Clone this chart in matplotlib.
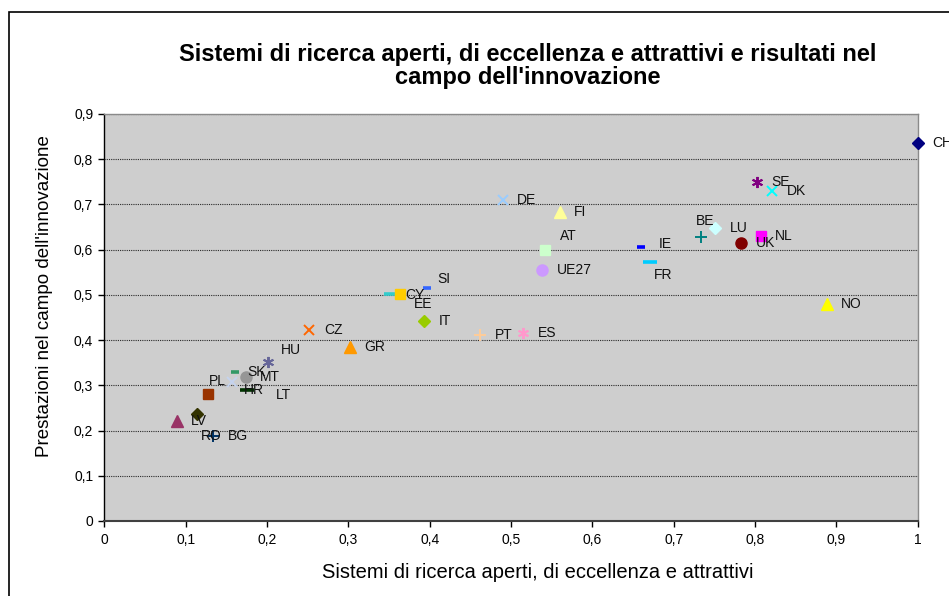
import matplotlib
matplotlib.use("Agg")
import matplotlib.pyplot as plt
from matplotlib.patches import Rectangle
from matplotlib.ticker import FuncFormatter, MultipleLocator

plt.rcParams['font.family'] = ['Liberation Sans', 'DejaVu Sans']

# ---- data ----
countries = ["CH", "NL", "NO", "DK", "SE", "UK", "BE", "IE", "FR", "LU",
             "AT", "FI", "DE", "ES", "UE27", "PT", "SI", "EE", "IT", "CY",
             "GR", "CZ", "HU", "MT", "BG", "SK", "HR", "RO", "LT", "LV", "PL"]
x_vals = [1.000, 0.807, 0.888, 0.821, 0.802, 0.783, 0.734, 0.660, 0.671, 0.751,
          0.542, 0.560, 0.490, 0.515, 0.538, 0.462, 0.397, 0.352, 0.393, 0.363,
          0.302, 0.252, 0.201, 0.174, 0.134, 0.161, 0.175, 0.114, 0.128, 0.089, 0.157]
y_vals = [0.835, 0.630, 0.480, 0.729, 0.750, 0.614, 0.627, 0.606, 0.572, 0.647,
          0.600, 0.684, 0.710, 0.415, 0.555, 0.410, 0.514, 0.501, 0.443, 0.502,
          0.384, 0.422, 0.352, 0.319, 0.188, 0.329, 0.290, 0.237, 0.280, 0.221, 0.308]

title = "Sistemi di ricerca aperti, di eccellenza e attrattivi e risultati nel\ncampo dell'innovazione"
xlabel = "Sistemi di ricerca aperti, di eccellenza e attrattivi"
ylabel = "Prestazioni nel campo dell'innovazione"

# ---- styles (marker, color, size) ----
AST = (6, 2, 0)
styles = {
    "CH": ("D", "#000080", 6), "NL": ("s", "#FF00FF", 7), "NO": ("^", "#FFFF00", 8),
    "DK": ("x", "#00FFFF", 7), "SE": (AST, "#800080", 8), "UK": ("o", "#800000", 8),
    "BE": ("+", "#008080", 8), "IE": ("_s", "#0000FF", 6), "FR": ("_l", "#00CCFF", 10),
    "LU": ("D", "#CCFFFF", 6), "AT": ("s", "#CCFFCC", 7), "FI": ("^", "#FFFF99", 8),
    "DE": ("x", "#99CCFF", 7), "ES": (AST, "#FF99CC", 8), "UE27": ("o", "#CC99FF", 8),
    "PT": ("+", "#FFCC99", 8), "SI": ("_s", "#3366FF", 6), "EE": ("_l", "#33CCCC", 10),
    "IT": ("D", "#99CC00", 6), "CY": ("s", "#FFCC00", 7), "GR": ("^", "#FF9900", 8),
    "CZ": ("x", "#FF6600", 7), "HU": (AST, "#666699", 8), "MT": ("o", "#969696", 8),
    "BG": ("+", "#003366", 8), "SK": ("_s", "#339966", 6), "HR": ("_l", "#003300", 10),
    "RO": ("D", "#333300", 6), "LT": ("s", "#993300", 7), "LV": ("^", "#993366", 8),
    "PL": ("x", "#C5D3EE", 7),
}
# label offsets in pixels (dx to left edge, dy downward)
std = (14.5, 0)
label_off = {c: std for c in countries}
label_off.update({
    "BE": (-5.7, -16.6), "IE": (18, -2.7), "FR": (3.6, 12.7), "AT": (15, -13.7),
    "SI": (10.2, -9.5), "CY": (6, 1), "EE": (23.5, 10), "HU": (13.5, -11.8),
    "SK": (12.3, 0), "PL": (-23.4, -1), "HR": (-2.3, 0), "LT": (67.7, 0.7),
    "RO": (3.4, 22.3),
})

W, H = 949, 596
fig = plt.figure(figsize=(W / 100, H / 100), dpi=100)
fig.patch.set_facecolor("white")

# chart-area border
fig.patches.append(Rectangle((9 / W, -0.05), 1.1, 1 - 12 / H + 0.05,
                             transform=fig.transFigure, fill=False,
                             edgecolor="black", linewidth=1.2, zorder=0))

ax = fig.add_axes([104.3 / W, 1 - 521 / H, (917.7 - 104.3) / W, (521 - 113.8) / H])
ax.set_facecolor("#CECECE")
ax.set_xlim(0, 1)
ax.set_ylim(0, 0.9)
ax.xaxis.set_major_locator(MultipleLocator(0.1))
ax.yaxis.set_major_locator(MultipleLocator(0.1))
fmt = FuncFormatter(lambda v, p: ("%g" % round(v, 2)).replace(".", ","))
ax.xaxis.set_major_formatter(fmt)
ax.yaxis.set_major_formatter(fmt)
ax.tick_params(axis="both", direction="out", length=4, width=1, labelsize=10,
               colors="black", pad=4)
ax.tick_params(axis="x", pad=5)
ax.grid(axis="y", color="#2a2a2a", linestyle=(0, (1, 1)), linewidth=0.8)
ax.set_axisbelow(True)

for s in ("top", "right"):
    ax.spines[s].set_color("#8a8a8a")
    ax.spines[s].set_linewidth(1.0)
ax.spines["left"].set_color("black")
ax.spines["left"].set_linewidth(1.0)
ax.spines["bottom"].set_color("#404040")
ax.spines["bottom"].set_linewidth(1.5)

for c, xv, yv in zip(countries, x_vals, y_vals):
    m, col, ms = styles[c]
    if m in ("_s", "_l"):
        ax.plot([xv], [yv], marker="_", color=col, markersize=ms, mew=2.6,
                linestyle="none", clip_on=False, zorder=3)
    elif m in ("x", "+") or m == AST:
        ax.plot([xv], [yv], marker=m, color=col, markersize=ms, mew=1.4,
                linestyle="none", clip_on=False, zorder=3)
    else:
        ax.plot([xv], [yv], marker=m, color=col, markersize=ms, mec=col,
                linestyle="none", clip_on=False, zorder=3)
    dx, dy = label_off[c]
    ax.annotate(c, (xv, yv), xytext=(dx * 0.72, -dy * 0.72),
                textcoords="offset points", ha="left", va="center",
                fontsize=10, color="#111111", annotation_clip=False, zorder=4)

fig.text(528 / W, 1 - 66 / H, title, ha="center", va="center",
         fontsize=17, fontweight="bold", linespacing=1.0)
fig.text(537.5 / W, 1 - 572 / H, xlabel, ha="center", va="center", fontsize=14.5)
fig.text(45 / W, 1 - 296 / H, ylabel, ha="center", va="center", fontsize=13.5,
         rotation=90)

fig.savefig("out.png", dpi=100)
